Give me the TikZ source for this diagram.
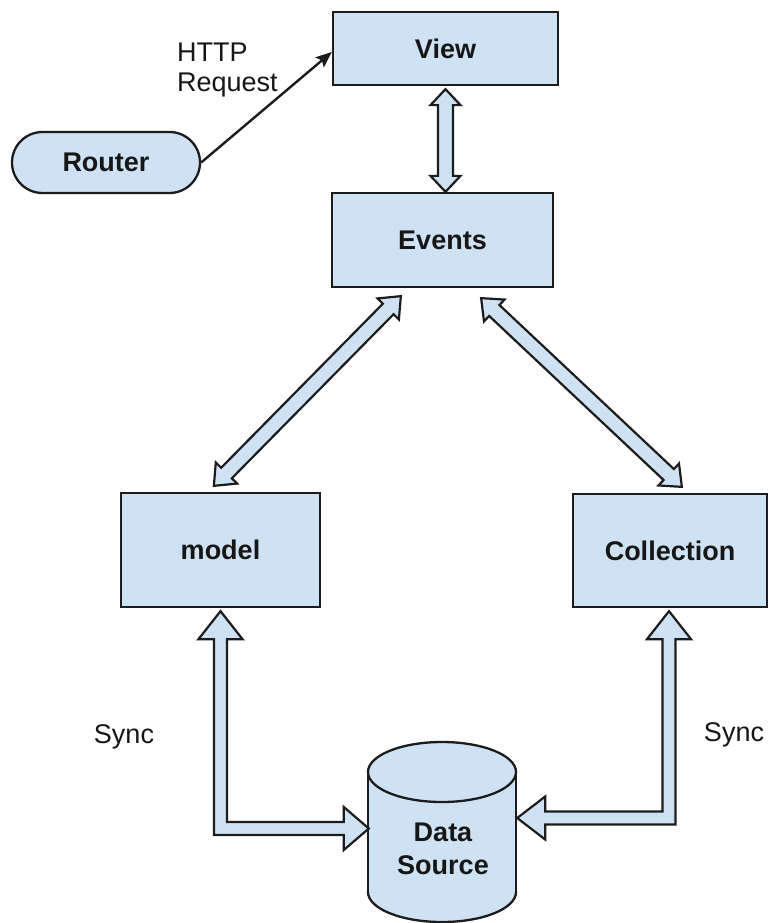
\documentclass[tikz,border=0pt]{standalone}
\usepackage{fontspec}
\setmainfont{Liberation Sans}
\usetikzlibrary{calc,arrows.meta}
\definecolor{boxfill}{HTML}{CFE2F3}
\definecolor{edge}{HTML}{1C1C1C}
\definecolor{txt}{HTML}{161616}
\newcommand\lblfont{\fontsize{27}{33}\selectfont}
\newcommand\fatdouble[5]{%
  \coordinate (fa1) at ($(#1)!#3!(#2)$);
  \coordinate (fb1) at ($(#2)!#3!(#1)$);
  \filldraw[fatarrow] (#1) -- ($(fa1)!#4!90:(#2)$) -- ($(fa1)!#5!90:(#2)$)
    -- ($(fb1)!#5!-90:(#1)$) -- ($(fb1)!#4!-90:(#1)$) -- (#2)
    -- ($(fb1)!#4!90:(#1)$) -- ($(fb1)!#5!90:(#1)$)
    -- ($(fa1)!#5!-90:(#2)$) -- ($(fa1)!#4!-90:(#2)$) -- cycle;}
\tikzset{
  boxnode/.style={draw=edge, fill=boxfill, line width=2.3pt, inner sep=0pt,
    font=\lblfont\bfseries, text=txt},
  fatarrow/.style={draw=edge, fill=boxfill, line width=2.2pt, line join=miter},
  plainlbl/.style={font=\lblfont, text=txt, inner sep=0pt},
}
\begin{document}
\begin{tikzpicture}[x=1pt,y=-1pt]
\useasboundingbox[fill=white] (0,0) rectangle (768,923);

% boxes
\node[boxnode, minimum width=225pt, minimum height=73pt] (view) at (445.5,48.5) {View};
\node[boxnode, minimum width=221pt, minimum height=94pt] (events) at (442.5,240) {Events};
\node[boxnode, minimum width=199pt, minimum height=114pt] (model) at (220.5,550) {model};
\node[boxnode, minimum width=194pt, minimum height=113pt] (coll) at (670,550.5) {Collection};
\node[boxnode, rounded corners=30.5pt, minimum width=188pt, minimum height=61pt] (router) at (106,162.5) {Router};

% data source cylinder
\filldraw[draw=edge, fill=boxfill, line width=2.3pt] (442,892) ellipse[x radius=74, y radius=30];
\fill[boxfill] (368,772) rectangle (516,892);
\draw[edge, line width=2.3pt] (368,772) -- (368,892) (516,772) -- (516,892);
\filldraw[draw=edge, fill=boxfill, line width=2.3pt] (442,772) ellipse[x radius=74, y radius=30];
\node[plainlbl, font=\lblfont\bfseries, align=center, minimum width=148pt, minimum height=60pt] (ds) at (443,849) {Data\\Source};

% labels
\node[plainlbl, anchor=base west] (http1) at (177,62) {HTTP};
\node[plainlbl, anchor=base west] (http2) at (177,92) {Request};
\node[plainlbl] (sync1) at (124,737) {Sync};
\node[plainlbl] (sync2) at (734,735) {Sync};

% HTTP request arrow
\coordinate (vin) at ($(view.west)+(0,3.5)$);
\draw[edge, line width=2.4pt, -{Stealth[length=16pt,width=13pt,inset=3pt]}] (router.east) -- (vin);

% View <-> Events
\coordinate (v1) at ($(view.south)+(0,3)$);
\coordinate (v2) at (v1 |- events.north);
\fatdouble{v1}{v2}{16pt}{15pt}{7.5pt}

% Events <-> model
\coordinate (e1) at ($(events.south west)+(70,8)$);
\coordinate (m1) at ($(model.north west)+(94,-6)$);
\fatdouble{e1}{m1}{18pt}{15pt}{7.5pt}

% Events <-> Collection
\coordinate (e2) at ($(events.south east)+(-73,10)$);
\coordinate (c1) at ($(coll.north west)+(110,-6)$);
\fatdouble{e2}{c1}{18pt}{15pt}{7.5pt}

% model <-> Data Source (sync)
\coordinate (mtip) at ($(model.south)+(0,3)$);
\coordinate (dtipL) at ($(ds.west)+(0,-20.5)$);
\filldraw[fatarrow] (mtip) -- ($(mtip)+(22,28)$) -- ($(mtip)+(6.5,28)$)
  -- ($(mtip |- dtipL)+(6.5,-6.5)$) -- ($(dtipL)+(-25,-6.5)$) -- ($(dtipL)+(-25,-21.5)$)
  -- (dtipL) -- ($(dtipL)+(-25,21.5)$) -- ($(dtipL)+(-25,6.5)$)
  -- ($(mtip |- dtipL)+(-6.5,6.5)$) -- ($(mtip)+(-6.5,28)$) -- ($(mtip)+(-22,28)$) -- cycle;

% Collection <-> Data Source (sync)
\coordinate (ctip) at ($(coll.south)+(-1,3)$);
\coordinate (dtipR) at ($(ds.east)+(0,-31)$);
\filldraw[fatarrow] (ctip) -- ($(ctip)+(-22,28)$) -- ($(ctip)+(-6.5,28)$)
  -- ($(ctip |- dtipR)+(-6.5,-6.5)$) -- ($(dtipR)+(28,-6.5)$) -- ($(dtipR)+(28,-21.5)$)
  -- (dtipR) -- ($(dtipR)+(28,21.5)$) -- ($(dtipR)+(28,6.5)$)
  -- ($(ctip |- dtipR)+(6.5,6.5)$) -- ($(ctip)+(6.5,28)$) -- ($(ctip)+(22,28)$) -- cycle;
\end{tikzpicture}
\end{document}
